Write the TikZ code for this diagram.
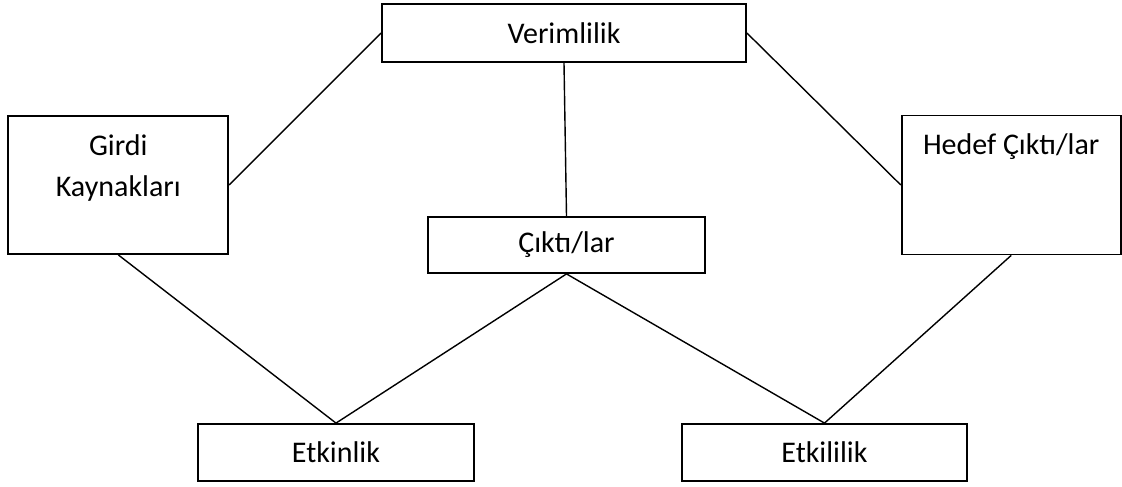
\documentclass[tikz,border=0pt]{standalone}
\usepackage{fontspec}
\setmainfont{Carlito}
\begin{document}
\begin{tikzpicture}[x=1pt,y=-1pt,
  box/.style={draw=black,line width=1.8pt,inner sep=0pt,fill=white},
  lbl/.style={font=\fontsize{30}{41}\selectfont,align=center,inner sep=0pt},
  conn/.style={draw=black,line width=1.4pt}]
\useasboundingbox (0,0) rectangle (1122,487);
\node[box,minimum width=364pt,minimum height=58pt] (ver) at (564,33) {};
\node[box,minimum width=220pt,minimum height=138pt] (girdi) at (118.3,185) {};
\node[box,minimum width=219pt,minimum height=139pt] (hedef) at (1011.2,185) {};
\node[box,minimum width=277pt,minimum height=56pt] (cikti) at (566.5,245) {};
\node[box,minimum width=276pt,minimum height=57pt] (etkinlik) at (336,452.5) {};
\node[box,minimum width=285pt,minimum height=57pt] (etkililik) at (824.5,452.5) {};
\node[lbl] (vert) at (ver.center) {Verimlilik};
\node[lbl] (girdit) at (118.3,168) {Girdi\\Kaynakları};
\node[lbl] (hedeft) at (1011.2,147) {Hedef Çıktı/lar};
\node[lbl] (ciktit) at (cikti.center) {Çıktı/lar};
\node[lbl] (etkinlikt) at (etkinlik.center) {Etkinlik};
\node[lbl] (etkililikt) at (etkililik.center) {Etkililik};
\draw[conn] (ver.west) -- (girdi.east);
\draw[conn] (ver.east) -- (hedef.west);
\draw[conn] (ver.south) -- (cikti.north);
\draw[conn] (girdi.south) -- (etkinlik.north);
\draw[conn] (cikti.south) -- (etkinlik.north);
\draw[conn] (cikti.south) -- (etkililik.north);
\draw[conn] (hedef.south) -- (etkililik.north);
\end{tikzpicture}
\end{document}
